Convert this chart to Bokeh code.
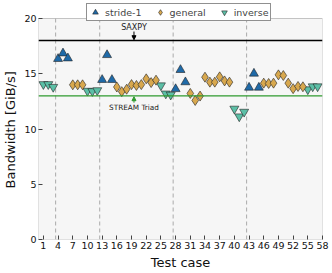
from bokeh.plotting import figure
from bokeh.models import (ColumnDataSource, Span, Legend, LegendItem, FixedTicker,
                          Arrow, NormalHead, Label, Range1d, BoxAnnotation)
from bokeh.embed import file_html
from bokeh.resources import INLINE

# ---- data ----
stride_x = [4, 5, 6, 13, 14, 15, 28, 29, 30, 43, 44, 45]
stride_y = [16.35, 16.85, 16.4, 14.45, 16.7, 14.45, 13.62, 15.35, 14.24, 13.75, 15.02, 13.75]

general_x = [7, 8, 9, 16, 17, 18, 19, 20, 21, 22, 23, 24,
             31, 32, 33, 34, 35, 36, 37, 38, 39,
             46, 47, 48, 49, 50, 51, 52, 53, 54]
general_y = [14.0, 14.0, 14.0, 13.8, 13.38, 13.6, 14.02, 13.94, 14.02, 14.54, 14.2, 14.42,
             13.22, 12.58, 12.98, 14.69, 14.24, 14.24, 14.72, 14.35, 14.24,
             14.15, 14.12, 14.15, 14.9, 14.84, 14.15, 13.65, 13.85, 13.82]

inverse_x = [1, 2, 3, 10, 11, 12, 25, 26, 27, 40, 41, 42, 55, 56, 57]
inverse_y = [14.05, 14.05, 13.8, 13.45, 13.42, 13.5, 13.94, 13.2, 13.1, 11.83, 11.13, 11.55,
             13.58, 13.85, 13.85]

group_separators = [3.5, 12.5, 27.5, 42.5]
saxpy_bw = 18.0
stream_bw = 13.0
x_ticks = list(range(1, 59, 3))
y_ticks = [0, 5, 10, 15, 20]
x_lo, x_hi = 0, 58
y_lo, y_hi = 0, 20

FONT = "DejaVu Sans"
C_STRIDE = "#1f6aa8"
C_GENERAL = "#d8a84e"
C_INVERSE = "#5cbfa6"

# The drawing frame reaches a bit above the axes box (y 0..20) so the legend,
# which overlaps the top of the box, stays inside the frame.
FRAME_TOP, FRAME_BOTTOM = 3, 239     # px
AXES_TOP = 18                        # px where y = 20 sits
y_frame_top = y_hi * (FRAME_BOTTOM - FRAME_TOP) / (FRAME_BOTTOM - AXES_TOP)

p = figure(width=330, height=272, output_backend="svg", toolbar_location=None,
           x_range=Range1d(x_lo, x_hi), y_range=Range1d(y_lo, y_frame_top),
           min_border_left=34, min_border_right=8, min_border_top=FRAME_TOP,
           min_border_bottom=272 - FRAME_BOTTOM)
p.background_fill_color = "white"
p.border_fill_color = "white"
p.outline_line_color = None

# axes box
p.add_layout(BoxAnnotation(left=x_lo, right=x_hi, bottom=y_lo, top=y_hi,
                           fill_color="#f6f6f6", fill_alpha=1,
                           line_color="#444444", line_width=1, level="underlay"))

# grid
p.xgrid.visible = False
p.ygrid.ticker = FixedTicker(ticks=[5, 10, 15])
p.ygrid.grid_line_color = "#999999"
p.ygrid.grid_line_dash = "1 2"
p.ygrid.grid_line_width = 1

# axes
p.xaxis.ticker = FixedTicker(ticks=x_ticks)
p.yaxis.ticker = FixedTicker(ticks=y_ticks)
for ax in (p.xaxis[0], p.yaxis[0]):
    ax.major_tick_in = 4
    ax.major_tick_out = 0
    ax.minor_tick_line_color = None
    ax.axis_line_color = None
    ax.major_tick_line_color = "#444444"
    ax.major_label_text_font = FONT
    ax.major_label_text_font_size = "9.5px"
    ax.major_label_text_color = "#111111"
    ax.axis_label_text_font = FONT
    ax.axis_label_text_font_size = "13px"
    ax.axis_label_text_font_style = "normal"
    ax.axis_label_text_color = "#111111"
    ax.major_label_standoff = 2
    ax.axis_label_standoff = 3
p.xaxis.axis_label = "Test case"
p.yaxis.axis_label = "Bandwidth [GiB/s]" + "\u00a0" * 4

# separators
p.segment(x0=group_separators, x1=group_separators,
          y0=[y_lo] * len(group_separators), y1=[y_hi] * len(group_separators),
          line_color="#aaaaaa", line_dash="4 3", line_width=1)

# reference lines
p.add_layout(Span(location=saxpy_bw, dimension="width", line_color="black", line_width=1.5))
p.add_layout(Span(location=stream_bw, dimension="width", line_color="#2e9a2e", line_width=1.2))

# annotations
p.add_layout(Label(x=19.5, y=18.82, text="SAXPY", text_font=FONT, text_font_size="8px",
                   text_align="center", text_baseline="bottom", text_color="#222222"))
p.add_layout(Arrow(end=NormalHead(size=4, fill_color="black", line_color="black"),
                   x_start=19.5, y_start=18.82, x_end=19.5, y_end=saxpy_bw + 0.08,
                   line_color="black", line_width=1))
p.add_layout(Label(x=19.5, y=12.38, text="STREAM Triad", text_font=FONT, text_font_size="7.3px",
                   text_align="center", text_baseline="top", text_color="#222222"))
p.add_layout(Arrow(end=NormalHead(size=4, fill_color="#2e9a2e", line_color="#2e9a2e"),
                   x_start=19.5, y_start=12.38, x_end=19.5, y_end=stream_bw - 0.08,
                   line_color="#2e9a2e", line_width=1))

# data
src_s = ColumnDataSource(dict(x=stride_x, y=stride_y))
src_g = ColumnDataSource(dict(x=general_x, y=general_y))
src_i = ColumnDataSource(dict(x=inverse_x, y=inverse_y))
ri = p.scatter("x", "y", source=src_i, marker="inverted_triangle", size=9,
               fill_color=C_INVERSE, line_color="#222222", line_width=0.6)
rs = p.scatter("x", "y", source=src_s, marker="triangle", size=9,
               fill_color=C_STRIDE, line_color="#222222", line_width=0.6)
rg = p.scatter("x", "y", source=src_g, marker="diamond", size=10,
               fill_color=C_GENERAL, line_color="#222222", line_width=0.6)

legend = Legend(items=[LegendItem(label="stride-1", renderers=[rs]),
                       LegendItem(label="general", renderers=[rg]),
                       LegendItem(label="inverse", renderers=[ri])],
                orientation="horizontal", location=(48, 218),
                label_text_font=FONT, label_text_font_size="9.5px",
                glyph_width=14, glyph_height=14, label_standoff=3, spacing=11,
                padding=1, margin=0, border_line_color="#222222", border_line_width=1,
                background_fill_color="white", background_fill_alpha=1,
                label_height=14)
p.add_layout(legend, "center")

open("out.html", "w").write(file_html(p, INLINE))
